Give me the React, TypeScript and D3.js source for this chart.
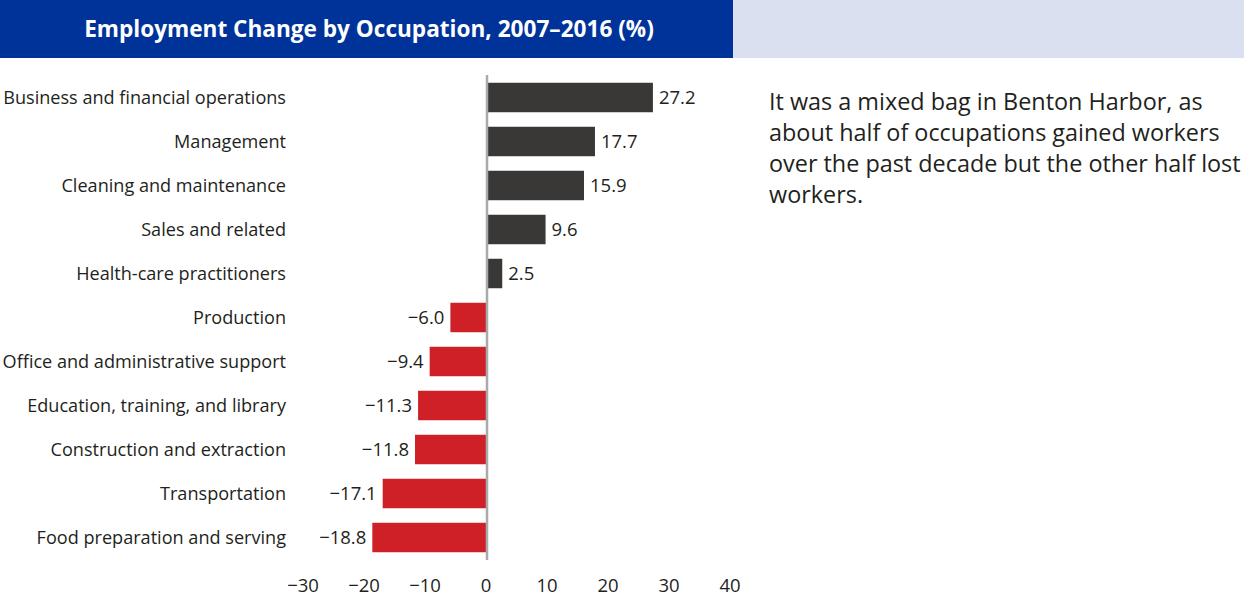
import React from "react";
import * as d3 from "d3";

const categories = [
  "Business and financial operations",
  "Management",
  "Cleaning and maintenance",
  "Sales and related",
  "Health-care practitioners",
  "Production",
  "Office and administrative support",
  "Education, training, and library",
  "Construction and extraction",
  "Transportation",
  "Food preparation and serving",
];
const values = [27.2, 17.7, 15.9, 9.6, 2.5, -6.0, -9.4, -11.3, -11.8, -17.1, -18.8];
const ticks = [-30, -20, -10, 0, 10, 20, 30, 40];
const title = "Employment Change by Occupation, 2007–2016 (%)";
const noteLines = [
  "It was a mixed bag in Benton Harbor, as",
  "about half of occupations gained workers",
  "over the past decade but the other half lost",
  "workers.",
];

const W = 1244;
const H = 598;
const FONT = "'Open Sans', Lato, sans-serif";
const fmt = (v: number) => (v < 0 ? "\u2212" : "") + Math.abs(v).toFixed(1);
const fmtTick = (v: number) => (v < 0 ? "\u2212" : "") + Math.abs(v);

export default function App() {
  const x = d3.scaleLinear().domain([-30, 40]).range([304, 731]);
  const y = d3
    .scaleBand<string>()
    .domain(categories)
    .range([75.5, 559.5])
    .paddingInner(0.33)
    .paddingOuter(0.165);
  const bh = y.bandwidth();
  return (
    <svg
      width={W}
      height={H}
      style={{ position: "absolute", left: 0, top: 0, background: "#fff" }}
      fontFamily={FONT}
    >
      <rect x={0} y={0} width={733} height={58} fill="#003399" />
      <rect x={733} y={0} width={W - 733} height={58} fill="#dae0ef" />
      <text x={369} y={37} textAnchor="middle" fill="#fff" fontSize={22.6} fontWeight={700}>
        {title}
      </text>
      {categories.map((c, i) => {
        const v = values[i];
        const yy = y(c)!;
        const x0 = x(Math.min(0, v));
        const x1 = x(Math.max(0, v));
        return (
          <g key={c}>
            <rect x={x0} y={yy} width={x1 - x0} height={bh} fill={v >= 0 ? "#3a3837" : "#cf2027"} />
            <text
              x={286}
              y={yy + bh / 2}
              dy="0.35em"
              textAnchor="end"
              fontSize={18.1}
              fill="#231f20"
            >
              {c}
            </text>
            <text
              x={v >= 0 ? x1 + 6 : x0 - 6}
              y={yy + bh / 2}
              dy="0.35em"
              textAnchor={v >= 0 ? "start" : "end"}
              fontSize={18.5}
              fill="#231f20"
            >
              {fmt(v)}
            </text>
          </g>
        );
      })}
      <line x1={x(0)} x2={x(0)} y1={75} y2={560} stroke="#aaaaaa" strokeWidth={2.5} />
      {ticks.map((t) => (
        <text key={t} x={x(t) - 1} y={592} textAnchor="middle" fontSize={18.5} fill="#231f20">
          {fmtTick(t)}
        </text>
      ))}
      {noteLines.map((l, i) => (
        <text key={i} x={769} y={110 + i * 31} fontSize={23.4} fill="#231f20">
          {l}
        </text>
      ))}
    </svg>
  );
}
